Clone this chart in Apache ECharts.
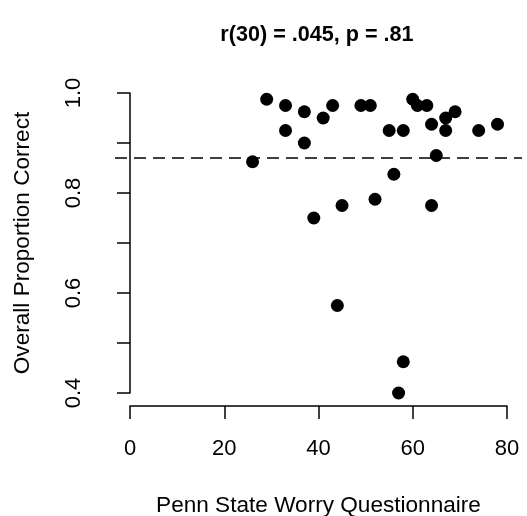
<!DOCTYPE html>
<html>
<head>
<meta charset="utf-8">
<script src="https://cdn.jsdelivr.net/npm/echarts@6/dist/echarts.min.js"></script>
<style>
html,body{margin:0;padding:0;background:#fff;}
#chart{width:527px;height:516px;}
</style>
</head>
<body>
<div id="chart"></div>
<script>
// Data
const pswq = [29, 33, 37, 43, 41, 33, 37, 26, 49, 51, 60, 61, 63, 69, 67, 64, 67, 55, 58, 74, 78, 65, 56, 52, 45, 64, 39, 44, 58, 57];
const proportionCorrect = [0.9875, 0.975, 0.9625, 0.975, 0.95, 0.925, 0.9, 0.8625, 0.975, 0.975, 0.9875, 0.975, 0.975, 0.9625, 0.95, 0.9375, 0.925, 0.925, 0.925, 0.925, 0.9375, 0.875, 0.8375, 0.7875, 0.775, 0.775, 0.75, 0.575, 0.4625, 0.4];
const meanLine = 0.872;
const xTickLabels = ['0', '20', '40', '60', '80'];
const yTickLabels = ['0.4', '0.6', '0.8', '1.0'];
const titleText = 'r(30) = .045, p = .81';
const xTitle = 'Penn State Worry Questionnaire';
const yTitle = 'Overall Proportion Correct';

const FONT = 'Liberation Sans, Arial, Helvetica, sans-serif';
const points = pswq.map((x, i) => [x, proportionCorrect[i]]);

const chart = echarts.init(document.getElementById('chart'), null, {renderer: 'canvas'});
chart.setOption({
  animation: false,
  backgroundColor: '#ffffff',
  title: {
    text: titleText,
    left: 312,
    textAlign: 'center',
    top: 19,
    textStyle: {fontFamily: FONT, fontWeight: 'bold', fontSize: 21.6, color: '#000'}
  },
  grid: [
    {left: 115, right: 5, top: 81, bottom: 111, containLabel: false, outerBoundsMode: 'none'},
    {left: 130, right: 20, top: 93, bottom: 123, containLabel: false, outerBoundsMode: 'none'}
  ],
  xAxis: [
    {gridIndex: 0, type: 'value', min: -3.2, max: 83.2, show: false},
    {
      gridIndex: 1, type: 'value', min: 0, max: 80, interval: 20, offset: 13,
      axisLine: {show: true, lineStyle: {color: '#000', width: 1.5}},
      axisTick: {show: true, length: 13, lineStyle: {color: '#000', width: 1.5}},
      splitLine: {show: false},
      axisLabel: {
        margin: 32, color: '#000', fontFamily: FONT, fontSize: 22,
        formatter: v => xTickLabels[Math.round(v / 20)] ?? ''
      },
      name: xTitle, nameLocation: 'middle', nameGap: 88,
      nameTextStyle: {fontFamily: FONT, fontSize: 22.6, color: '#000'}
    }
  ],
  yAxis: [
    {gridIndex: 0, type: 'value', min: 0.376, max: 1.024, show: false},
    {
      gridIndex: 1, type: 'value', min: 0.4, max: 1.0, interval: 0.1, offset: 15,
      axisLine: {show: true, lineStyle: {color: '#000', width: 1.5}},
      axisTick: {show: true, length: 13, lineStyle: {color: '#000', width: 1.5}},
      splitLine: {show: false},
      axisLabel: {
        margin: 30, rotate: 90, color: '#000', fontFamily: FONT, fontSize: 22,
        formatter: v => {
          const k = Math.round(v * 10) - 4;
          return k % 2 === 0 ? (yTickLabels[k / 2] ?? '') : '';
        }
      },
      name: yTitle, nameLocation: 'middle', nameGap: 81, nameRotate: 90,
      nameTextStyle: {fontFamily: FONT, fontSize: 22.6, color: '#000'}
    }
  ],
  series: [
    {
      type: 'scatter',
      xAxisIndex: 0, yAxisIndex: 0,
      data: points,
      symbol: 'circle',
      symbolSize: 13,
      itemStyle: {color: '#000', opacity: 1},
      markLine: {
        silent: true,
        symbol: ['none', 'none'],
        label: {show: false},
        lineStyle: {color: '#000', type: [12, 7], width: 1.6},
        data: [{yAxis: meanLine}]
      }
    }
  ]
});
</script>
</body>
</html>
